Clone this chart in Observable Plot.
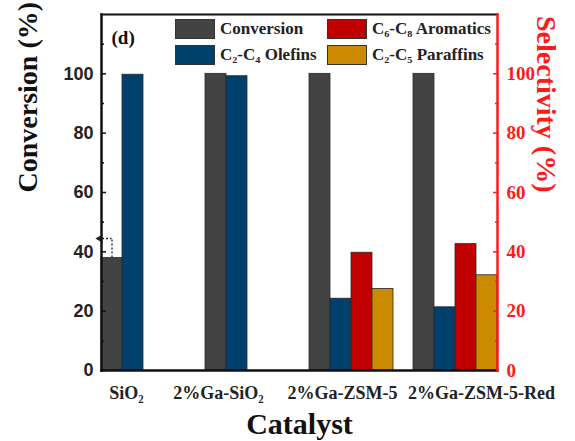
<!DOCTYPE html>
<html>
<head>
<meta charset="utf-8">
<script src="https://cdn.jsdelivr.net/npm/d3@7"></script>
<script src="https://cdn.jsdelivr.net/npm/@observablehq/plot@0.6"></script>
<style>
  html, body { margin: 0; padding: 0; background: #fff; }
  #wrap { position: relative; width: 575px; height: 441px; }
  #legend { position: absolute; left: 175px; top: 19px; font-family: "Liberation Serif", "Times New Roman", "DejaVu Serif", serif; font-weight: bold; font-size: 17px; color: #222; }
  .item { position: absolute; white-space: nowrap; display: flex; align-items: center; }
  .sw { width: 38px; height: 18px; border: 1px solid #333; margin-right: 5px; }
</style>
</head>
<body>
<div id="wrap"></div>
<script>
const catalysts = ["SiO₂", "2%Ga-SiO₂", "2%Ga-ZSM-5", "2%Ga-ZSM-5-Red"];
const seriesNames = ["Conversion", "C₂-C₄ Olefins", "C₆-C₈ Aromatics", "C₂-C₅ Paraffins"];
const seriesColors = ["#434343", "#00406c", "#c00000", "#cc8a00"];
const conversion = [37.9, 100, 100, 100];
const olefins = [99.7, 99.2, 24.2, 21.3];
const aromatics = [null, null, 39.7, 42.6];
const paraffins = [null, null, 27.5, 32.1];
const leftTicks = [0, 20, 40, 60, 80, 100];
const minorTicks = [10, 30, 50, 70, 90, 110];

const seriesValues = [conversion, olefins, aromatics, paraffins];
const rows = [];
catalysts.forEach((c, i) => seriesNames.forEach((s, j) => {
  const v = seriesValues[j][i];
  if (v != null) rows.push({catalyst: c, series: s, value: v});
}));
const noteRow = [{catalyst: catalysts[0], series: seriesNames[0], from: conversion[0], to: 44.5}];

// layout: horizontal nudges of the category labels, as in the reference
const labelNudge = [-17, -29, -9, 26];

const serif = "'Liberation Serif', 'Times New Roman', 'DejaVu Serif', serif";
const sans = "'Liberation Sans', Arial, Helvetica, sans-serif";

const chart = Plot.plot({
  width: 575, height: 441,
  marginLeft: 90, marginRight: 67, marginTop: 14, marginBottom: 71,
  style: {background: "white", overflow: "visible"},
  fx: {domain: catalysts, paddingInner: 0.19, paddingOuter: 0.1, axis: null, label: null},
  x: {domain: seriesNames, padding: 0, axis: null},
  y: {domain: [0, 120], axis: null},
  color: {domain: seriesNames, range: seriesColors},
  marks: [
    Plot.barY(rows, {fx: "catalyst", x: "series", y: "value", fill: "series", stroke: "#2a2a2a", strokeWidth: 0.8}),
    Plot.ruleX(noteRow, {fx: "catalyst", x: "series", y1: "from", y2: "to", stroke: "#222", strokeDasharray: "2,2", strokeWidth: 1.3}),
    Plot.tickY(noteRow, {fx: "catalyst", x: "series", y: "to", insetLeft: -3, insetRight: 10.5, stroke: "#222", strokeDasharray: "2,2", strokeWidth: 1.3}),
    Plot.dot(noteRow, {fx: "catalyst", x: "series", y: "to", dx: -12, symbol: "triangle", rotate: -90, r: 3, fill: "#222", stroke: "none"}),
    ...catalysts.map((c, i) => Plot.text([c], {fx: d => d, text: d => d, frameAnchor: "bottom", dy: 28, dx: labelNudge[i], fontSize: 18, fontFamily: serif, fontWeight: "bold", fill: "#222"})),
    Plot.axisY({anchor: "left", ticks: leftTicks, tickSize: 0, tickPadding: 8, fontSize: 18, fontFamily: sans, fontWeight: "bold", fill: "#222", label: null}),
    Plot.axisY({anchor: "left", ticks: leftTicks, tickSize: -5, text: null, stroke: "#111", strokeWidth: 1.5, label: null}),
    Plot.axisY({anchor: "left", ticks: minorTicks, tickSize: -3, text: null, stroke: "#111", strokeWidth: 1.5, label: null}),
    Plot.axisY({anchor: "right", ticks: leftTicks, tickSize: 0, tickPadding: 9, fontSize: 19, fontFamily: serif, fontWeight: "bold", fill: "#ff1a1a", label: null}),
    Plot.axisY({anchor: "right", ticks: leftTicks, tickSize: -5, text: null, stroke: "#ff1a1a", strokeWidth: 1.5, label: null}),
    Plot.axisY({anchor: "right", ticks: minorTicks, tickSize: -3, text: null, stroke: "#ff1a1a", strokeWidth: 1.5, label: null}),
    Plot.frame({facet: "super", anchor: "bottom", stroke: "#111", strokeWidth: 2.5}),
    Plot.frame({facet: "super", anchor: "top", stroke: "#111", strokeWidth: 2}),
    Plot.frame({facet: "super", anchor: "left", stroke: "#111", strokeWidth: 2.5}),
    Plot.frame({facet: "super", anchor: "right", stroke: "#ff1a1a", strokeWidth: 2.5}),
    Plot.text(["Conversion (%)"], {facet: "super", frameAnchor: "left", dx: -73, rotate: -90, fontSize: 28, fontFamily: serif, fontWeight: "bold", fill: "#111"}),
    Plot.text(["Selectivity (%)"], {facet: "super", frameAnchor: "right", dx: 48, rotate: 90, fontSize: 28, fontFamily: serif, fontWeight: "bold", fill: "#ff1a1a"}),
    Plot.text(["Catalyst"], {facet: "super", frameAnchor: "bottom", dy: 63, fontSize: 30, fontFamily: serif, fontWeight: "bold", fill: "#111"}),
    Plot.text(["(d)"], {facet: "super", frameAnchor: "top-left", dx: 10, dy: 16, fontSize: 19, fontFamily: serif, fontWeight: "bold", fill: "#111"})
  ]
});

const wrap = document.getElementById("wrap");
wrap.appendChild(chart);
const legend = document.createElement("div");
legend.id = "legend";
const pos = [[0, 0], [0, 26], [152, 0], [152, 26]];
seriesNames.forEach((s, i) => {
  const it = document.createElement("div");
  it.className = "item";
  it.style.left = pos[i][0] + "px";
  it.style.top = pos[i][1] + "px";
  const sw = document.createElement("span");
  sw.className = "sw";
  sw.style.background = seriesColors[i];
  const t = document.createElement("span");
  t.textContent = s;
  it.appendChild(sw); it.appendChild(t);
  legend.appendChild(it);
});
wrap.appendChild(legend);
</script>
</body>
</html>
